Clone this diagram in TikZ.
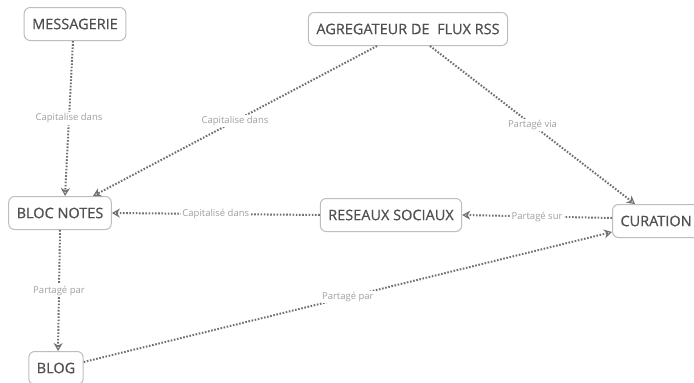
\documentclass[tikz,border=0pt]{standalone}
\usepackage{fontspec}
\setmainfont{Open Sans}
\usetikzlibrary{arrows.meta}
\definecolor{boxline}{HTML}{BDBDBD}
\definecolor{boxtext}{HTML}{505050}
\definecolor{conn}{HTML}{707070}
\definecolor{lbl}{HTML}{A0A0A0}
\tikzset{
  concept/.style={draw=boxline, line width=1pt, rounded corners=6pt, fill=white,
    text=boxtext, font=\fontsize{14.5}{16}\selectfont\addfontfeature{FakeBold=0.6},
    minimum height=33pt, inner xsep=8pt},
  link/.style={draw=conn, line width=2pt, dash pattern=on 1.6pt off 1.6pt,
    -{Stealth[open, length=8pt, width=9pt, line width=1.2pt, conn]}},
  lab/.style={fill=white, text=lbl, font=\fontsize{9.5}{11}\selectfont, inner sep=1.5pt}
}
\begin{document}
\begin{tikzpicture}[x=1pt,y=-1pt]
\useasboundingbox[fill=white] (0,0) rectangle (694,383);
\node[concept] (mess) at (75,24) {MESSAGERIE};
\node[concept] (agr) at (408,29) {AGREGATEUR DE \ FLUX RSS};
\node[concept] (bloc) at (60,213) {BLOC NOTES};
\node[concept] (res) at (391,215) {RESEAUX SOCIAUX};
\node[concept, anchor=west] (cur) at (612,221) {CURATION};
\node[concept] (blog) at (56,368) {BLOG};

\draw[link] ([xshift=-2pt]mess.south) -- node[lab]{Capitalise dans} ([xshift=5pt]bloc.north);
\draw[link] ([xshift=-31pt]agr.south) -- node[lab]{Capitalise dans} ([xshift=33pt]bloc.north);
\draw[link] ([xshift=22pt]agr.south) -- node[lab]{Partagé via} ([xshift=23pt]cur.north west);
\draw[link] (res.west) -- node[lab]{Capitalisé dans} (bloc.east);
\draw[link] ([yshift=3pt]cur.west) -- node[lab]{Partagé sur} (res.east);
\draw[link] (bloc.south) -- node[lab]{Partagé par} ([xshift=2pt]blog.north);
\draw[link] ([yshift=6pt]blog.east) -- node[lab, pos=0.5]{Partagé par} ([yshift=-11pt]cur.west);
\end{tikzpicture}
\end{document}
